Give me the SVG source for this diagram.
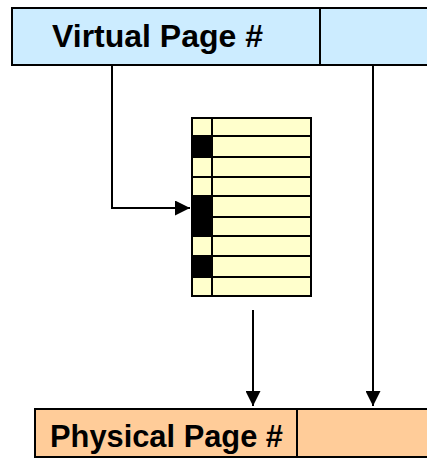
<svg xmlns="http://www.w3.org/2000/svg" width="427" height="459" viewBox="0 0 427 459">
  <style>
    .box { stroke: #000; stroke-width: 2; }
    .va { fill: #CCECFF; }
    .pa { fill: #FFCC99; }
    .lbl { font-family: "Liberation Sans", Arial, sans-serif; font-weight: bold; font-size: 32px; fill: #000; }
    .pte { fill: #FFFFCC; stroke: #000; stroke-width: 2; }
    .bit { fill: #000; }
    .wire { fill: none; stroke: #000; stroke-width: 2; }
  </style>
  <defs>
    <marker id="arrow" viewBox="0 0 10 10" refX="10" refY="5" markerWidth="15" markerHeight="15" markerUnits="userSpaceOnUse" orient="auto">
      <path d="M0,0 L10,5 L0,10 Z" fill="#000"/>
    </marker>
  </defs>

  <!-- virtual address -->
  <g id="virtual-address">
    <rect class="box va" x="12" y="8" width="420" height="57"/>
    <line class="box" x1="320" y1="8" x2="320" y2="65"/>
    <text class="lbl" x="52" y="47" textLength="211" lengthAdjust="spacingAndGlyphs">Virtual Page #</text>
  </g>

  <!-- page table -->
  <g id="page-table">
    <rect class="pte" x="192" y="118" width="119" height="178"/>
    <rect class="bit" x="192" y="136" width="20" height="21"/>
    <rect class="bit" x="192" y="196" width="20" height="40"/>
    <rect class="bit" x="192" y="256" width="20" height="21"/>
    <g class="wire">
      <line x1="212" y1="118" x2="212" y2="296"/>
      <line x1="192" y1="136" x2="311" y2="136"/>
      <line x1="192" y1="157" x2="311" y2="157"/>
      <line x1="192" y1="177" x2="311" y2="177"/>
      <line x1="192" y1="196" x2="311" y2="196"/>
      <line x1="192" y1="217" x2="311" y2="217"/>
      <line x1="192" y1="236" x2="311" y2="236"/>
      <line x1="192" y1="256" x2="311" y2="256"/>
      <line x1="192" y1="277" x2="311" y2="277"/>
    </g>
  </g>

  <!-- physical address -->
  <g id="physical-address">
    <rect class="box pa" x="35" y="409" width="400" height="48"/>
    <line class="box" x1="297" y1="409" x2="297" y2="457"/>
    <text class="lbl" x="50" y="447" textLength="233" lengthAdjust="spacingAndGlyphs">Physical Page #</text>
  </g>

  <!-- connectors -->
  <g id="connectors">
    <polyline class="wire" points="112,65 112,208 190,208" marker-end="url(#arrow)"/>
    <line class="wire" x1="373" y1="65" x2="373" y2="406" marker-end="url(#arrow)"/>
    <line class="wire" x1="253" y1="310" x2="253" y2="406" marker-end="url(#arrow)"/>
  </g>
</svg>
